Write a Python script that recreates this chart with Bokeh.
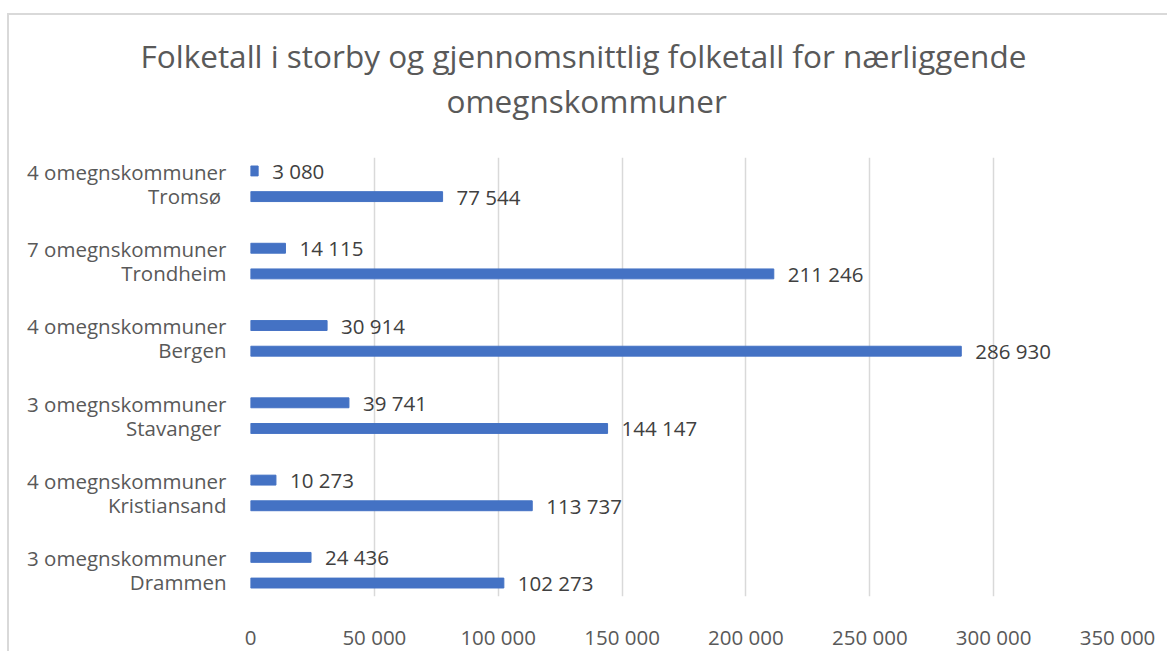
from bokeh.plotting import figure
from bokeh.models import FixedTicker, Title, ColumnDataSource, Range1d
from bokeh.embed import file_html
from bokeh.resources import INLINE
from bokeh.core.properties import value

# ---- data (bottom to top) ----
cities = ["Drammen", "Kristiansand", "Stavanger ", "Bergen", "Trondheim", "Tromsø "]
omegn_labels = ["3 omegnskommuner", "4 omegnskommuner", "3 omegnskommuner",
                "4 omegnskommuner", "7 omegnskommuner", "4 omegnskommuner"]
city_pop = [102273, 113737, 144147, 286930, 211246, 77544]
omegn_pop = [24436, 10273, 39741, 30914, 14115, 3080]
x_ticks = [0, 50000, 100000, 150000, 200000, 250000, 300000, 350000]
title_line1 = "Folketall i storby og gjennomsnittlig folketall for nærliggende"
title_line2 = "omegnskommuner"

FONT = "Open Sans"
BAR = "#4472C4"
GREY = "#595959"
DARK = "#404040"
FS = "20.5px"

def fmt(v):
    return f"{v:,}".replace(",", " ")

groups = list(range(len(cities)))
dodge = 0.166
bar_h = 0.128

src_city = ColumnDataSource(dict(y=[g - dodge for g in groups], v=city_pop,
                                 lab=[fmt(v) for v in city_pop]))
src_omegn = ColumnDataSource(dict(y=[g + dodge for g in groups], v=omegn_pop,
                                  lab=[fmt(v) for v in omegn_pop]))

p = figure(width=1160, height=638, output_backend="svg", toolbar_location=None,
           title=None, x_range=Range1d(0, 350000), y_range=Range1d(-0.34, 5.34),
           min_border_left=241, min_border_right=52, min_border_top=142,
           min_border_bottom=52)
p.styles = {"border-left": "2px solid #d9d9d9", "border-top": "2px solid #d9d9d9",
            "margin-top": "13px", "margin-left": "7px"}
p.outline_line_color = None
p.background_fill_color = "white"
p.border_fill_color = "white"

p.hbar(y="y", right="v", left=0, height=bar_h, source=src_city, color=BAR)
p.hbar(y="y", right="v", left=0, height=bar_h, source=src_omegn, color=BAR)

for s in (src_city, src_omegn):
    p.text(x="v", y="y", text="lab", source=s, x_offset=14, text_baseline="middle",
           text_align="left", text_font=value(FONT), text_font_size=FS,
           text_color=DARK)

# x axis
p.xaxis.ticker = FixedTicker(ticks=x_ticks)
p.xaxis.major_label_overrides = {t: fmt(t) for t in x_ticks}
p.xaxis.axis_line_color = None
p.xaxis.major_tick_line_color = None
p.xaxis.minor_tick_line_color = None
p.xaxis.major_label_text_font = FONT
p.xaxis.major_label_text_font_size = FS
p.xaxis.major_label_text_color = GREY
p.xaxis.major_label_standoff = 20

# y axis
p.yaxis.ticker = FixedTicker(ticks=groups)
p.yaxis.major_label_overrides = {g: f"{omegn_labels[g]}\n{cities[g]}" for g in groups}
p.yaxis.axis_line_color = None
p.yaxis.major_tick_line_color = None
p.yaxis.minor_tick_line_color = None
p.yaxis.major_label_text_font = FONT
p.yaxis.major_label_text_font_size = FS
p.yaxis.major_label_text_color = GREY
p.yaxis.major_label_text_line_height = 0.86
p.yaxis.major_label_standoff = 18

p.xgrid.grid_line_color = "#d9d9d9"
p.xgrid.grid_line_width = 1.5
p.ygrid.grid_line_color = None

p.add_layout(Title(text=title_line2, align="left", offset=196, standoff=0,
                   padding=dict(top=0, right=0, bottom=36, left=0),
                   text_font=FONT, text_font_size="31.5px", text_font_style="normal",
                   text_color=GREY), "above")
p.add_layout(Title(text=title_line1, align="left", offset=-110, standoff=0,
                   text_font=FONT, text_font_size="31.5px", text_font_style="normal",
                   text_color=GREY), "above")

open("out.html", "w").write(file_html(p, INLINE))
